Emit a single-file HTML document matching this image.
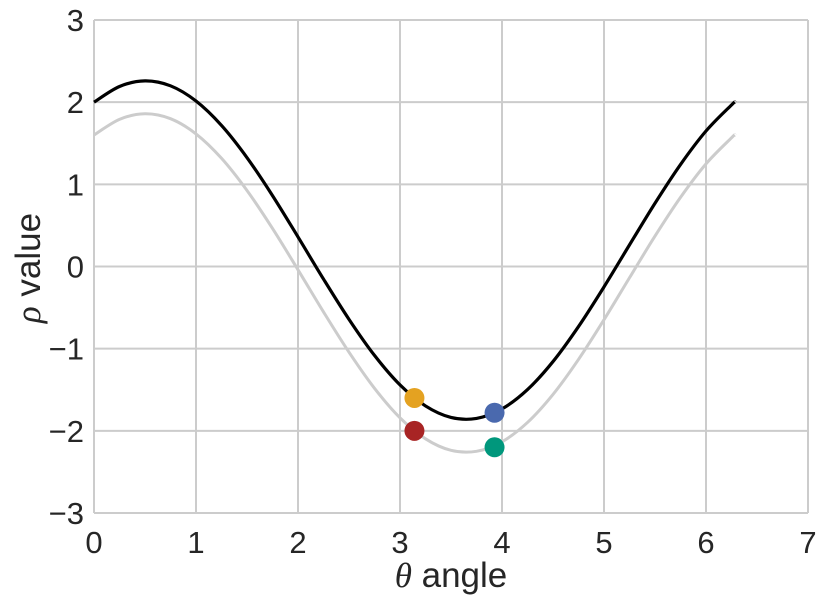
<!DOCTYPE html>
<html><head><meta charset="utf-8"><style>
html,body{margin:0;padding:0;background:#fff;}
svg text{font-family:"Liberation Sans",sans-serif;fill:#262626;}
</style></head><body>
<svg id="chart" width="822" height="602">
<g id="grid"></g><g id="ticks"></g><g id="series"></g>
<text x="451" y="587" font-size="35" text-anchor="middle"><tspan font-family="Liberation Serif" font-style="italic">θ</tspan> angle</text>
<text transform="translate(40,268) rotate(-90)" font-size="35" text-anchor="middle"><tspan font-family="Liberation Serif" font-style="italic">ρ</tspan> value</text>
</svg>
<script>
const thetas=[0,0.25,0.5,0.75,1,1.25,1.5,1.75,2,2.25,2.5,2.75,3,3.25,3.5,3.75,4,4.25,4.5,4.75,5,5.25,5.5,5.75,6,6.25,6.283];
const blackVals=[2.0,2.191,2.259,2.199,2.014,1.717,1.325,0.863,0.360,-0.153,-0.643,-1.082,-1.441,-1.697,-1.837,-1.849,-1.733,-1.498,-1.157,-0.731,-0.248,0.263,0.770,1.241,1.649,1.966,2.0];
const grayVals=[1.6,1.791,1.859,1.799,1.614,1.317,0.925,0.463,-0.040,-0.553,-1.043,-1.482,-1.841,-2.097,-2.237,-2.249,-2.133,-1.898,-1.557,-1.131,-0.648,-0.137,0.370,0.841,1.249,1.566,1.6];
const pointX=[3.1416,3.1416,3.927,3.927];
const pointY=[-1.6,-2.0,-1.78,-2.2];
const pointColors=['#e4a221','#a82424','#4a69ae','#00977c'];
const pointNames=['point-orange','point-red','point-blue','point-teal'];
const xTicks=[0,1,2,3,4,5,6,7];
const yTicks=[3,2,1,0,-1,-2,-3];
const yTickLabels=['3','2','1','0','−1','−2','−3'];

const X0=94,X1=808,Y0=20,Y1=513;
const sx=v=>X0+(v-0)/(7-0)*(X1-X0);
const sy=v=>Y1-(v+3)/6*(Y1-Y0);
const NS='http://www.w3.org/2000/svg';
function mk(tag,parent,attrs){const e=document.createElementNS(NS,tag);for(const k in attrs)e.setAttribute(k,attrs[k]);document.getElementById(parent).appendChild(e);return e;}

xTicks.forEach(t=>{
 const l=mk('line','grid',{x1:sx(t),x2:sx(t),y1:Y0,y2:Y1,stroke:'#cccccc','stroke-width':2});
 
 
 const tx=mk('text','ticks',{x:sx(t),y:Y1+40,'font-size':31,'text-anchor':'middle'});
 tx.textContent=t;
 
 
});
yTicks.forEach((t,i)=>{
 const l=mk('line','grid',{x1:X0,x2:X1,y1:sy(t),y2:sy(t),stroke:'#cccccc','stroke-width':2});
 
 
 const tx=mk('text','ticks',{x:X0-10,y:sy(t)+11,'font-size':31,'text-anchor':'end'});
 tx.textContent=yTickLabels[i];
 
 
});

function pathFor(xs,ys){
 const p=xs.map((x,i)=>[sx(x),sy(ys[i])]);
 let d='M'+p[0][0]+','+p[0][1];
 for(let i=0;i<p.length-1;i++){
  const a=p[Math.max(0,i-1)],b=p[i],c=p[i+1],e=p[Math.min(p.length-1,i+2)];
  const c1=[b[0]+(c[0]-a[0])/6,b[1]+(c[1]-a[1])/6],c2=[c[0]-(e[0]-b[0])/6,c[1]-(e[1]-b[1])/6];
  d+=' C'+c1+' '+c2+' '+c;
 }
 return d;
}
const g=mk('path','series',{d:pathFor(thetas,grayVals),fill:'none',stroke:'#cccccc','stroke-width':3});


const b=mk('path','series',{d:pathFor(thetas,blackVals),fill:'none',stroke:'#000','stroke-width':3.2});


pointX.forEach((x,i)=>{
 const c=mk('circle','series',{cx:sx(x),cy:sy(pointY[i]),r:10,fill:pointColors[i]});
 
 
});
</script>
</body></html>
